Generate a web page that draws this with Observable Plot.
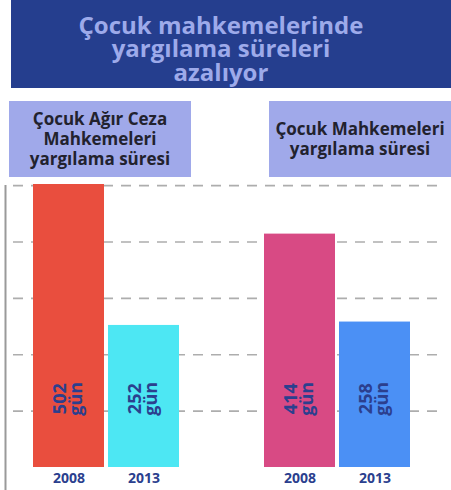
<!DOCTYPE html>
<html>
<head>
<meta charset="utf-8">
<script src="https://cdn.jsdelivr.net/npm/d3@7"></script>
<script src="https://cdn.jsdelivr.net/npm/@observablehq/plot@0.6"></script>
<style>
  html, body { margin: 0; padding: 0; background: #fff; }
  body { width: 451px; height: 490px; position: relative; overflow: hidden; font-family: "Open Sans", sans-serif; }
  #title { position: absolute; left: 11px; top: 0; width: 440px; height: 88px; background: #253E8E;
    color: #9DAAEA; font-weight: 700; font-size: 24px; line-height: 23.5px; text-align: center;
    box-sizing: border-box; padding: 8px 20px 0 0; display: flex; align-items: center; justify-content: center; }
  .sub { position: absolute; top: 101px; width: 182px; height: 76px; background: #A0A9EA; color: #22222E;
    font-weight: 700; font-size: 17px; line-height: 20px; text-align: center;
    display: flex; align-items: center; justify-content: center; }
  #chart { position: absolute; left: 0; top: 180px; width: 451px; height: 310px; }
  #chart svg { position: absolute; left: 0; top: 0; }
</style>
</head>
<body>
<div id="title"></div>
<div id="sub0" class="sub" style="left:9px"></div>
<div id="sub1" class="sub" style="left:269px"></div>
<div id="chart"></div>
<script>
// ---- data ----
const titleLines = ["Çocuk mahkemelerinde", "yargılama süreleri", "azalıyor"];
const courts = ["agirCeza", "cocuk"];
const courtTitles = [["Çocuk Ağır Ceza", "Mahkemeleri", "yargılama süresi"], ["Çocuk Mahkemeleri", "yargılama süresi"]];
const years = ["2008", "2013"];
const agirCezaDays = [502, 252];
const cocukDays = [414, 258];
const unit = "gün";
const gridValues = [100, 200, 300, 400, 500];
const labelLevel = 122;

// ---- styles ----
const palette = ["#E94E3E", "#4DE7F3", "#D84A84", "#4B90F5"];
const textBlue = "#2B3F8E";

document.getElementById("title").innerHTML = titleLines.join("<br>");
courtTitles.forEach((lines, i) => {
  document.getElementById("sub" + i).innerHTML = "<div>" + lines.join("<br>") + "</div>";
});

const series = [agirCezaDays, cocukDays];
const rows = [];
courts.forEach((c, i) => years.forEach((y, j) => rows.push({court: c, year: y, value: series[i][j], key: c + y})));
const yDomain = [0, d3.max(rows, d => d.value)];

const W = 451, H = 310, mTop = 4, mBottom = 23;

const grid = Plot.plot({
  width: W, height: H,
  marginLeft: 5, marginRight: 11, marginTop: mTop, marginBottom: mBottom,
  style: {background: "transparent"},
  x: {domain: [0, 1], axis: null},
  y: {domain: yDomain, axis: null},
  marks: [
    Plot.ruleY(gridValues, {y: d => d, stroke: "#adadad", strokeWidth: 1.6, strokeDasharray: "10,8", insetLeft: 8}),
    Plot.ruleX([0], {x: d => d, stroke: "#9a9a9a", strokeWidth: 2, insetTop: 1, insetBottom: -mBottom})
  ]
});

const bars = Plot.plot({
  width: W, height: H,
  marginLeft: 29, marginRight: 37, marginTop: mTop, marginBottom: mBottom,
  style: {background: "transparent", fontFamily: "Open Sans", fontSize: "14px", fontWeight: "bold", color: textBlue},
  facet: {data: rows, x: "court"},
  fx: {domain: courts, paddingInner: 1/3, paddingOuter: 0, axis: null, label: null},
  x: {domain: years, padding: 0.0533, tickSize: 0, tickPadding: 6, label: null},
  y: {domain: yDomain, axis: null},
  color: {domain: rows.map(d => d.key), range: palette},
  marks: [
    Plot.barY(rows, {x: "year", y: "value", fill: "key"}),
    Plot.text(rows, {x: "year", y: () => labelLevel, text: d => d.value + "\n" + unit,
      rotate: -90, fontSize: 18, fontWeight: "bold", lineHeight: 0.88, fill: textBlue})
  ]
});

const chart = document.getElementById("chart");
chart.appendChild(grid);
chart.appendChild(bars);
</script>
</body>
</html>
